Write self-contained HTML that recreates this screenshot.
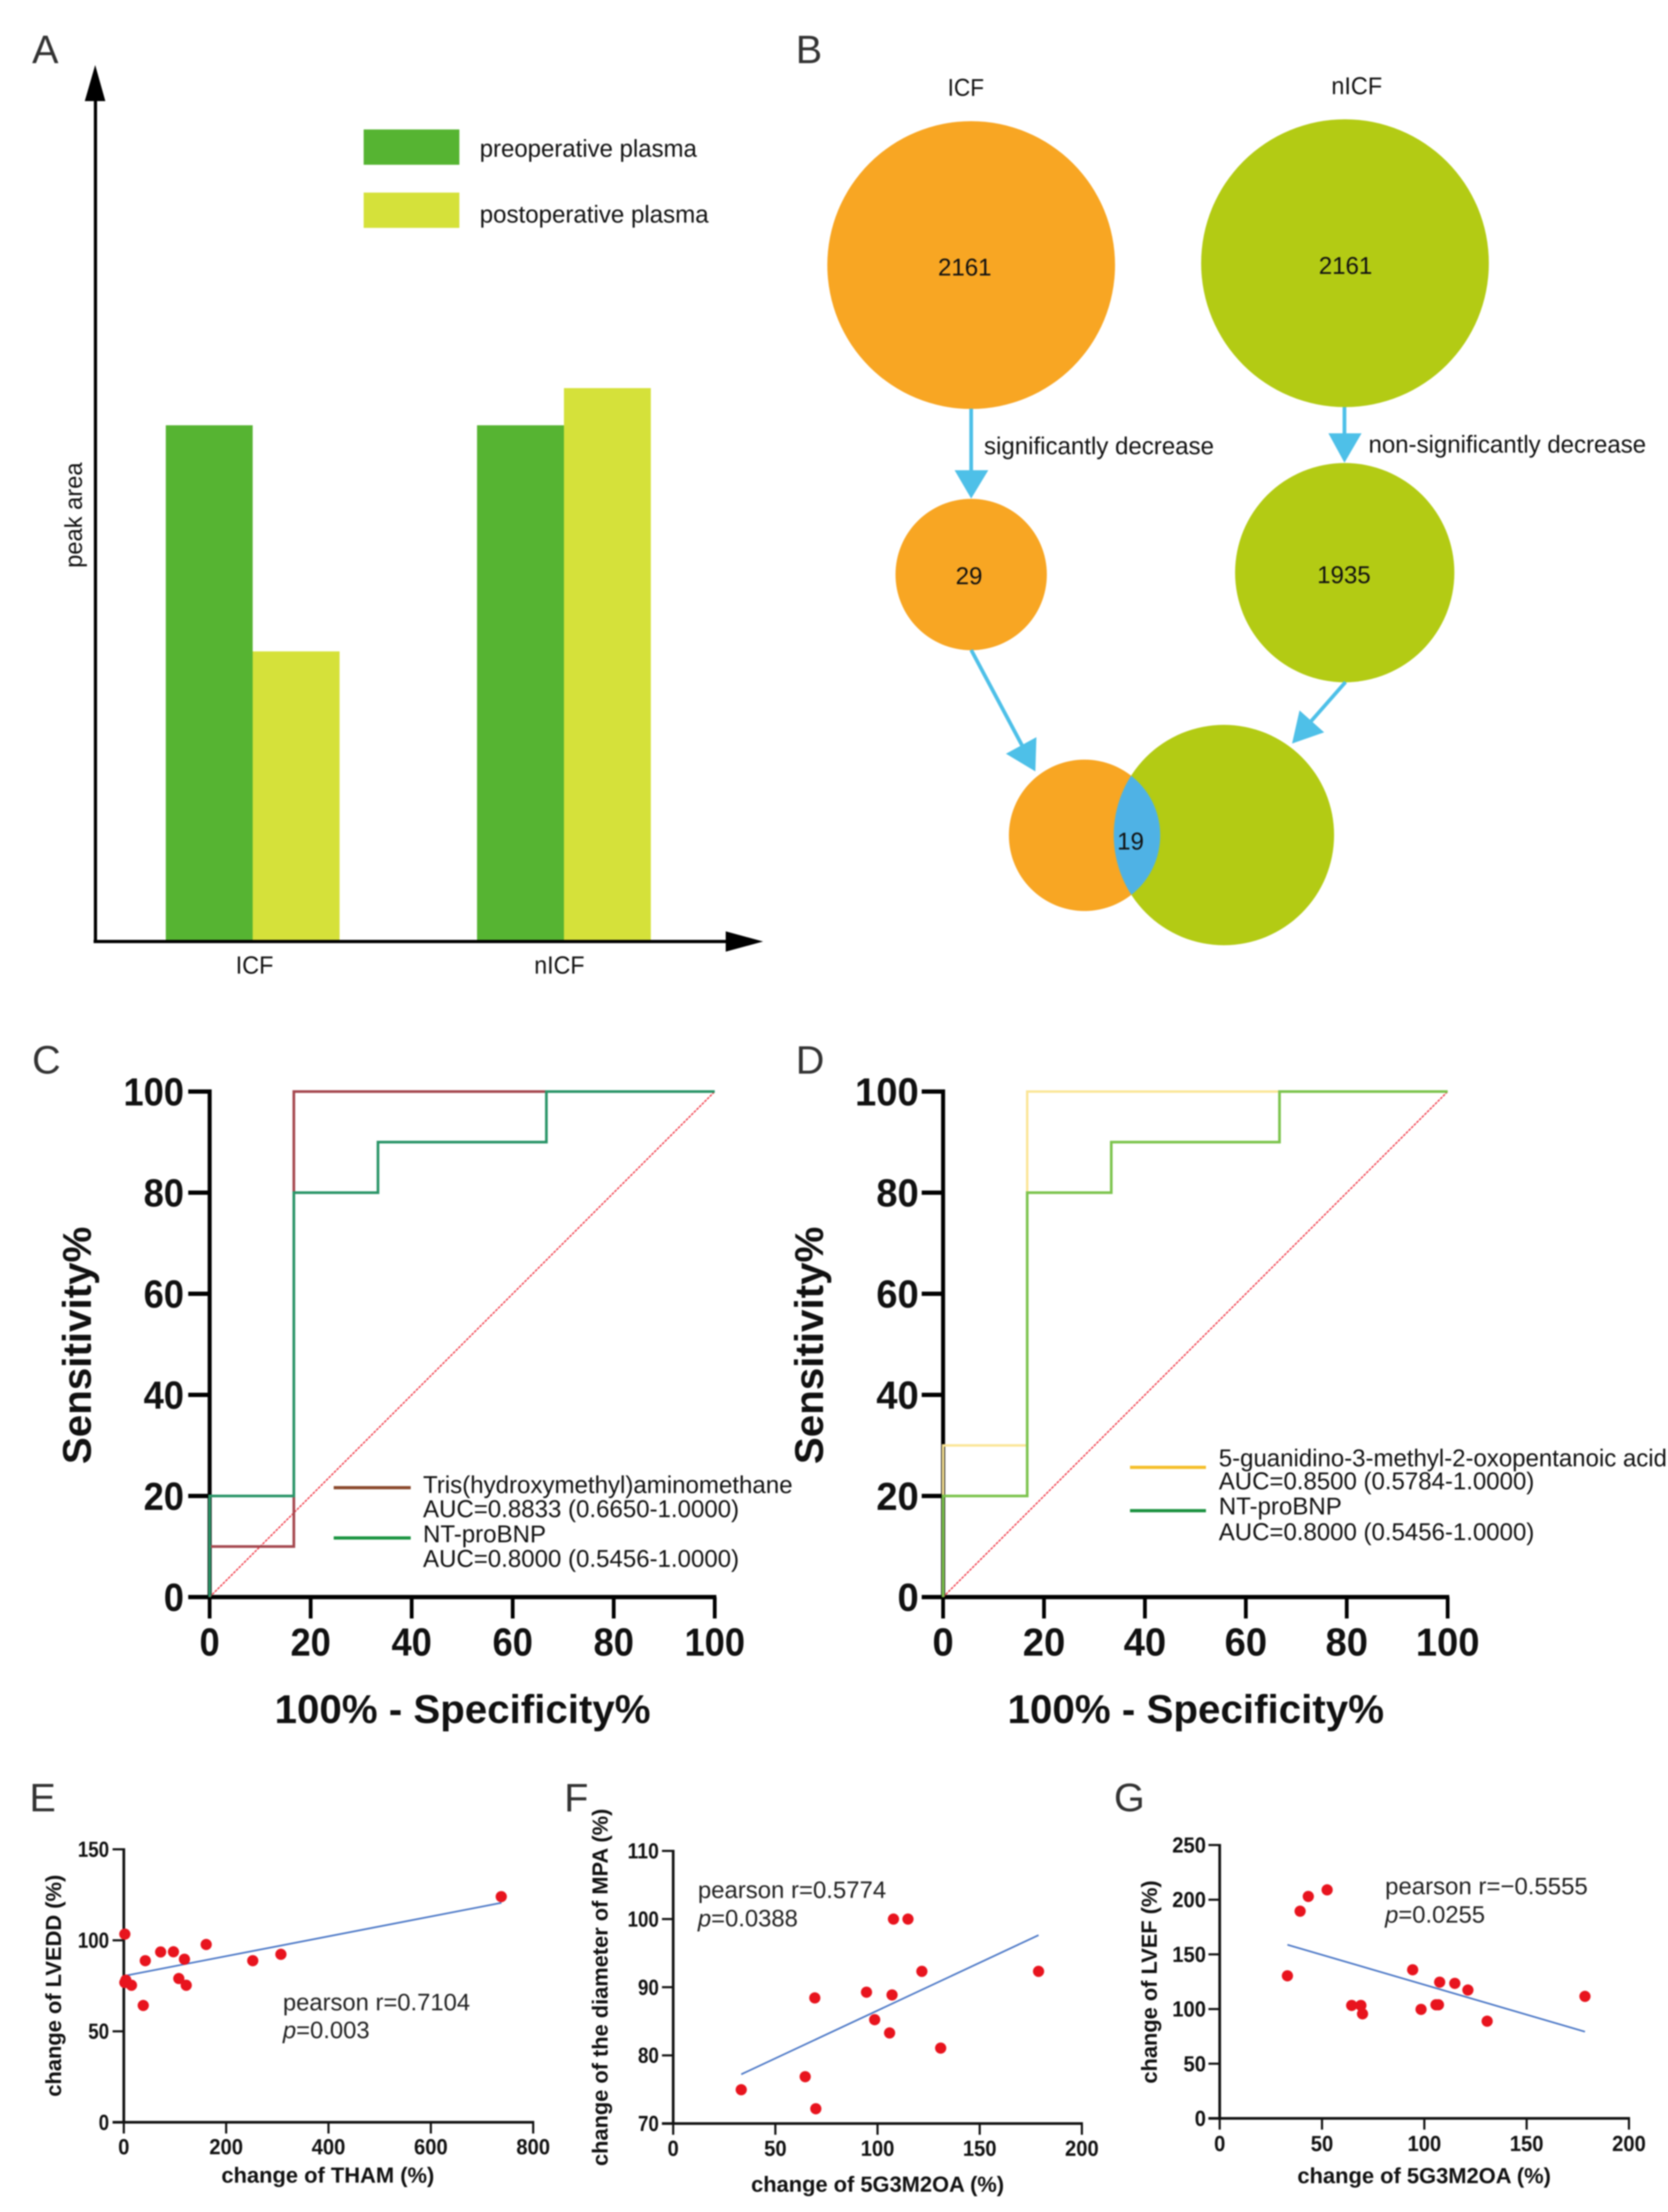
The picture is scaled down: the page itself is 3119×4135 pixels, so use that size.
<!DOCTYPE html>
<html lang="en">
<head>
<meta charset="utf-8">
<title>Metabolite figure panels A-G</title>
<style>
html,body{margin:0;padding:0;background:#fff;}
svg{display:block;font-family:"Liberation Sans",Arial,sans-serif;filter:blur(1.2px);}
text{fill:#111;}
.letter{font-size:74px;fill:#333;}
.t45{font-size:45px;}
.roc-title{font-size:75px;font-weight:bold;}
.sc-title{font-size:41px;font-weight:bold;}
.stat{font-size:44.5px;fill:#222;}
</style>
</head>
<body>
<svg id="fig" xmlns="http://www.w3.org/2000/svg" width="3119" height="4135" viewBox="0 0 3119 4135">
  <rect x="0" y="0" width="3119" height="4135" fill="#ffffff"/>

  <!-- Panel letters -->
  <text class="letter" x="60" y="118">A</text>
  <text class="letter" x="1488" y="118">B</text>
  <text class="letter" x="60" y="2007">C</text>
  <text class="letter" x="1488" y="2007">D</text>
  <text class="letter" x="55" y="3386">E</text>
  <text class="letter" x="1055" y="3386">F</text>
  <text class="letter" x="2083" y="3386">G</text>

  <!-- Panel A static -->
  <g id="panel-a">
    <rect x="680" y="242" width="179" height="66" fill="#56B432"/>
    <rect x="680" y="360" width="179" height="66" fill="#D5E13A"/>
    <text class="t45" x="897" y="293" textLength="406" lengthAdjust="spacingAndGlyphs">preoperative plasma</text>
    <text class="t45" x="897" y="416" textLength="428" lengthAdjust="spacingAndGlyphs">postoperative plasma</text>
    <text class="t45" transform="translate(153,963) rotate(-90)" text-anchor="middle" textLength="197" lengthAdjust="spacingAndGlyphs">peak area</text>
  </g>

  <!-- Panel B -->
  <g id="panel-b">
    <defs>
      <clipPath id="venn-clip"><circle cx="2288.6" cy="1561" r="206"/></clipPath>
    </defs>
    <text class="t45" x="1806" y="179" text-anchor="middle" textLength="68" lengthAdjust="spacingAndGlyphs">ICF</text>
    <text class="t45" x="2537" y="176" text-anchor="middle" textLength="95" lengthAdjust="spacingAndGlyphs">nICF</text>
    <circle cx="1816" cy="495.5" r="269" fill="#F8A623"/>
    <circle cx="2515" cy="492" r="269" fill="#B3CB14"/>
    <text class="t45" x="1804" y="515" text-anchor="middle">2161</text>
    <text class="t45" x="2516" y="512" text-anchor="middle">2161</text>
    <line x1="1816" y1="764" x2="1816" y2="885" stroke="#4EC0E8" stroke-width="7"/>
    <polygon points="1785,879 1848,879 1816,932" fill="#4EC0E8"/>
    <line x1="2514" y1="761" x2="2514" y2="815" stroke="#4EC0E8" stroke-width="7"/>
    <polygon points="2484,810 2546,810 2514,865" fill="#4EC0E8"/>
    <text class="t45" x="1840" y="849" textLength="430" lengthAdjust="spacingAndGlyphs">significantly decrease</text>
    <text class="t45" x="2559" y="846" textLength="519" lengthAdjust="spacingAndGlyphs">non-significantly decrease</text>
    <circle cx="1816" cy="1074" r="141.5" fill="#F8A623"/>
    <circle cx="2514.5" cy="1070.5" r="205" fill="#B3CB14"/>
    <text class="t45" x="1812" y="1092" text-anchor="middle">29</text>
    <text class="t45" x="2513" y="1090" text-anchor="middle">1935</text>
    <line x1="1816" y1="1215" x2="1912" y2="1395" stroke="#4EC0E8" stroke-width="7"/>
    <polygon points="1881,1409 1938,1378 1936,1442" fill="#4EC0E8"/>
    <line x1="2516" y1="1275" x2="2450" y2="1350" stroke="#4EC0E8" stroke-width="7"/>
    <polygon points="2430,1328 2476,1369 2416,1390" fill="#4EC0E8"/>
    <circle cx="2028" cy="1561.5" r="141.5" fill="#F8A623"/>
    <circle cx="2288.6" cy="1561" r="206" fill="#B3CB14"/>
    <circle cx="2028" cy="1561.5" r="141.5" fill="#4FB2E5" clip-path="url(#venn-clip)"/>
    <text class="t45" x="2114" y="1588" text-anchor="middle">19</text>
  </g>

  <!-- Panel C static -->
  <g id="panel-c">
    <text class="roc-title" x="865" y="3221" text-anchor="middle" textLength="703" lengthAdjust="spacingAndGlyphs">100% - Specificity%</text>
    <text class="roc-title" transform="translate(170,2515) rotate(-90)" text-anchor="middle" textLength="444" lengthAdjust="spacingAndGlyphs">Sensitivity%</text>
    <line x1="624" y1="2781" x2="768" y2="2781" stroke="#8B4A2E" stroke-width="6"/>
    <line x1="624" y1="2875" x2="768" y2="2875" stroke="#1A9440" stroke-width="6"/>
    <text class="t45" x="791" y="2791" textLength="691" lengthAdjust="spacingAndGlyphs">Tris(hydroxymethyl)aminomethane</text>
    <text class="t45" x="791" y="2836" textLength="591" lengthAdjust="spacingAndGlyphs">AUC=0.8833 (0.6650-1.0000)</text>
    <text class="t45" x="791" y="2883">NT-proBNP</text>
    <text class="t45" x="791" y="2929" textLength="591" lengthAdjust="spacingAndGlyphs">AUC=0.8000 (0.5456-1.0000)</text>
  </g>

  <!-- Panel D static -->
  <g id="panel-d">
    <text class="roc-title" x="2236" y="3221" text-anchor="middle" textLength="704" lengthAdjust="spacingAndGlyphs">100% - Specificity%</text>
    <text class="roc-title" transform="translate(1539,2515) rotate(-90)" text-anchor="middle" textLength="444" lengthAdjust="spacingAndGlyphs">Sensitivity%</text>
    <line x1="2113" y1="2743" x2="2255" y2="2743" stroke="#F5BE2A" stroke-width="6"/>
    <line x1="2113" y1="2824" x2="2255" y2="2824" stroke="#1B9240" stroke-width="6"/>
    <text class="t45" x="2279" y="2741" textLength="838" lengthAdjust="spacingAndGlyphs">5-guanidino-3-methyl-2-oxopentanoic acid</text>
    <text class="t45" x="2279" y="2784" textLength="590" lengthAdjust="spacingAndGlyphs">AUC=0.8500 (0.5784-1.0000)</text>
    <text class="t45" x="2279" y="2831">NT-proBNP</text>
    <text class="t45" x="2279" y="2879" textLength="590" lengthAdjust="spacingAndGlyphs">AUC=0.8000 (0.5456-1.0000)</text>
  </g>

  <!-- Panel E static -->
  <g id="panel-e">
    <text class="sc-title" x="613" y="4080" text-anchor="middle" textLength="398" lengthAdjust="spacingAndGlyphs">change of THAM (%)</text>
    <text class="sc-title" transform="translate(114,3712) rotate(-90)" text-anchor="middle" textLength="415" lengthAdjust="spacingAndGlyphs">change of LVEDD (%)</text>
    <text class="stat" x="529" y="3758" textLength="350" lengthAdjust="spacingAndGlyphs">pearson r=0.7104</text>
    <text class="stat" x="529" y="3810"><tspan font-style="italic">p</tspan>=0.003</text>
  </g>

  <!-- Panel F static -->
  <g id="panel-f">
    <text class="sc-title" x="1641" y="4097" text-anchor="middle" textLength="473" lengthAdjust="spacingAndGlyphs">change of 5G3M2OA (%)</text>
    <text class="sc-title" transform="translate(1136,3715) rotate(-90)" text-anchor="middle" textLength="668" lengthAdjust="spacingAndGlyphs">change of the diameter of MPA (%)</text>
    <text class="stat" x="1305" y="3548" textLength="352" lengthAdjust="spacingAndGlyphs">pearson r=0.5774</text>
    <text class="stat" x="1305" y="3601"><tspan font-style="italic">p</tspan>=0.0388</text>
  </g>

  <!-- Panel G static -->
  <g id="panel-g">
    <text class="sc-title" x="2663" y="4081" text-anchor="middle" textLength="474" lengthAdjust="spacingAndGlyphs">change of 5G3M2OA (%)</text>
    <text class="sc-title" transform="translate(2163,3705) rotate(-90)" text-anchor="middle" textLength="380" lengthAdjust="spacingAndGlyphs">change of LVEF (%)</text>
    <text class="stat" x="2590" y="3541" textLength="379" lengthAdjust="spacingAndGlyphs">pearson r=−0.5555</text>
    <text class="stat" x="2590" y="3594"><tspan font-style="italic">p</tspan>=0.0255</text>
  </g>
</svg>

<script>
// ---------- Panel A data ----------
const barCategories = ['ICF', 'nICF'];
const preoperativeValues = [1.0, 1.0];
const postoperativeValues = [0.562, 1.072];

// ---------- Panels C and D data ----------
const rocTicks = [0, 20, 40, 60, 80, 100];
const diagonalX = [0, 100];
const diagonalY = [0, 100];
const thamRocX = [0, 0, 16.67, 16.67, 100];
const thamRocY = [0, 10, 10, 100, 100];
const ntProBnpRocX = [0, 0, 16.67, 16.67, 33.33, 33.33, 66.67, 66.67, 100];
const ntProBnpRocY = [0, 20, 20, 80, 80, 90, 90, 100, 100];
const guanidinoRocX = [0, 0, 16.67, 16.67, 100];
const guanidinoRocY = [0, 30, 30, 100, 100];

// ---------- Panel E data ----------
const eXTicks = [0, 200, 400, 600, 800];
const eYTicks = [0, 50, 100, 150];
const eX = [2, 4, 2, 15, 42, 38, 72, 97, 118.5, 107.5, 122, 161, 252, 307, 737.6];
const eY = [103.4, 78.1, 76.8, 75.3, 88.8, 64.2, 93.6, 93.7, 89.6, 79, 75.3, 97.7, 88.8, 92.3, 124];
const eFitX = [4, 738];
const eFitY = [80.6, 120.6];

// ---------- Panel F data ----------
const fXTicks = [0, 50, 100, 150, 200];
const fYTicks = [70, 80, 90, 100, 110];
const fX = [33.3, 64.6, 69.8, 69.3, 94.6, 98.6, 105.9, 107.1, 107.8, 114.9, 121.7, 130.9, 178.8];
const fY = [74.96, 76.87, 72.17, 88.43, 89.27, 85.24, 83.29, 88.87, 100, 100, 92.33, 81.07, 92.33];
const fFitX = [33.3, 178.8];
const fFitY = [77.22, 97.64];

// ---------- Panel G data ----------
const gXTicks = [0, 50, 100, 150, 200];
const gYTicks = [0, 50, 100, 150, 200, 250];
const gX = [33.1, 39.3, 43.3, 52.5, 64.5, 69, 69.8, 94.3, 98.4, 105.7, 106.9, 107.5, 114.9, 121.3, 130.7, 178.5];
const gY = [130.4, 189.5, 203, 209, 103.3, 103.3, 95.6, 135.9, 99.7, 103.9, 103.9, 124.6, 123.5, 117.4, 88.9, 111.6];
const gFitX = [33.1, 178.5];
const gFitY = [158.8, 79.3];

// ---------- Helpers ----------
const NS = 'http://www.w3.org/2000/svg';
function mk(parent, tag, attrs, txt) {
  const el = document.createElementNS(NS, tag);
  for (const k in attrs) el.setAttribute(k, attrs[k]);
  if (txt !== undefined) el.textContent = txt;
  parent.appendChild(el);
  return el;
}
function linearScale(d0, d1, r0, r1) {
  return function (v) { return r0 + (v - d0) * (r1 - r0) / (d1 - d0); };
}
function pathFrom(xs, ys, sx, sy) {
  return xs.map(function (x, i) {
    return (i ? 'L' : 'M') + sx(x).toFixed(2) + ' ' + sy(ys[i]).toFixed(2);
  }).join(' ');
}

// ---------- Panel A ----------
function drawBars() {
  const g = document.getElementById('panel-a');
  const baseY = 1760;
  const sy = linearScale(0, 1, baseY, 795);
  const barW = 162.5;
  const groupX = function (i) { return 472.5 + i * 582; };
  const labelX = function (i) { return 476 + i * 570; };

  barCategories.forEach(function (cat, i) {
    const pre = mk(g, 'rect', { x: groupX(i) - barW, y: sy(preoperativeValues[i]), width: barW, height: baseY - sy(preoperativeValues[i]), fill: '#56B432' });
    
    
    const post = mk(g, 'rect', { x: groupX(i), y: sy(postoperativeValues[i]), width: barW, height: baseY - sy(postoperativeValues[i]), fill: '#D5E13A' });
    
    
    const lab = mk(g, 'text', { x: labelX(i), y: 1820, 'text-anchor': 'middle', 'font-size': 46, textLength: cat.length * 23.5, lengthAdjust: 'spacingAndGlyphs' }, cat);
    
    
  });

  const yAxis = mk(g, 'line', { x1: 178.5, y1: 185, x2: 178.5, y2: 1763, stroke: '#000', 'stroke-width': 6 });
  
  
  const yHead = mk(g, 'polygon', { points: '158.5,189 197,189 178,121.5', fill: '#000' });
  
  
  const xAxis = mk(g, 'line', { x1: 175, y1: 1760, x2: 1360, y2: 1760, stroke: '#000', 'stroke-width': 6 });
  
  
  const xHead = mk(g, 'polygon', { points: '1357,1741 1357,1779 1427,1760', fill: '#000' });
  
  
}

// ---------- Panels C and D ----------
function drawRocAxes(g, sx, sy, charW, yLabelRight, suffix) {
  const xAxis = mk(g, 'line', { x1: sx(0) - 40, y1: sy(0), x2: sx(100) + 3, y2: sy(0), stroke: '#000', 'stroke-width': 8 });
  
  
  const yAxis = mk(g, 'line', { x1: sx(0), y1: sy(100) - 4, x2: sx(0), y2: sy(0) + 3, stroke: '#000', 'stroke-width': 7.5 });
  
  
  rocTicks.forEach(function (t) {
    const yt = mk(g, 'line', { x1: sx(0) - 40, y1: sy(t), x2: sx(0), y2: sy(t), stroke: '#000', 'stroke-width': 8 });
    
    
    const xt = mk(g, 'line', { x1: sx(t), y1: sy(0), x2: sx(t), y2: sy(0) + 40, stroke: '#000', 'stroke-width': 7 });
    
    
    const len = String(t).length * charW;
    const yl = mk(g, 'text', { x: yLabelRight, y: sy(t) + 26, 'text-anchor': 'end', 'font-size': 73, 'font-weight': 'bold', textLength: len, lengthAdjust: 'spacingAndGlyphs' }, String(t));
    
    
    const xl = mk(g, 'text', { x: sx(t), y: 3095, 'text-anchor': 'middle', 'font-size': 73, 'font-weight': 'bold', textLength: len, lengthAdjust: 'spacingAndGlyphs' }, String(t));
    
    
  });
}
function drawRocC() {
  const g = document.getElementById('panel-c');
  const sx = linearScale(0, 100, 392, 1336.5);
  const sy = linearScale(0, 100, 2985.5, 2040.5);
  drawRocAxes(g, sx, sy, 37.7, 344, 'c');
  const diag = mk(g, 'path', { d: pathFrom(diagonalX, diagonalY, sx, sy), fill: 'none', stroke: '#F0303F', 'stroke-width': 2.4, 'stroke-dasharray': '5 2' });
  
  
  const tham = mk(g, 'path', { d: pathFrom(thamRocX, thamRocY, sx, sy), fill: 'none', stroke: '#A5484F', 'stroke-width': 5 });
  
  
  const nt = mk(g, 'path', { d: pathFrom(ntProBnpRocX, ntProBnpRocY, sx, sy), fill: 'none', stroke: '#2A9568', 'stroke-width': 5 });
  
  
}
function drawRocD() {
  const g = document.getElementById('panel-d');
  const sx = linearScale(0, 100, 1763.5, 2707);
  const sy = linearScale(0, 100, 2985.5, 2040.5);
  drawRocAxes(g, sx, sy, 39.7, 1718, 'd');
  const diag = mk(g, 'path', { d: pathFrom(diagonalX, diagonalY, sx, sy), fill: 'none', stroke: '#F0303F', 'stroke-width': 2.4, 'stroke-dasharray': '5 2' });
  
  
  const gu = mk(g, 'path', { d: pathFrom(guanidinoRocX, guanidinoRocY, sx, sy), fill: 'none', stroke: '#FBE596', 'stroke-width': 4.5 });
  
  
  const nt = mk(g, 'path', { d: pathFrom(ntProBnpRocX, ntProBnpRocY, sx, sy), fill: 'none', stroke: '#7DC44E', 'stroke-width': 5 });
  
  
}

// ---------- Panels E, F, G ----------
function drawScatter(id, frame, xTicks, yTicks, xs, ys, fitX, fitY) {
  const g = document.getElementById(id);
  const sx = linearScale(xTicks[0], xTicks[xTicks.length - 1], frame.left, frame.right);
  const sy = linearScale(yTicks[0], yTicks[yTicks.length - 1], frame.bottom, frame.top);
  const xAxis = mk(g, 'line', { x1: frame.left - 21, y1: frame.bottom, x2: frame.right + 2, y2: frame.bottom, stroke: '#111', 'stroke-width': 5 });
  
  
  const yAxis = mk(g, 'line', { x1: frame.left, y1: frame.top - 2, x2: frame.left, y2: frame.bottom + 2, stroke: '#111', 'stroke-width': 5 });
  
  
  yTicks.forEach(function (t) {
    const tk = mk(g, 'line', { x1: frame.left - 21, y1: sy(t), x2: frame.left, y2: sy(t), stroke: '#111', 'stroke-width': 4 });
    
    
    const lb = mk(g, 'text', { x: frame.yLabelRight, y: sy(t) + 14, 'text-anchor': 'end', 'font-size': 41, 'font-weight': 'bold', textLength: String(t).length * frame.yCharW, lengthAdjust: 'spacingAndGlyphs' }, String(t));
    
    
  });
  xTicks.forEach(function (t) {
    const tk = mk(g, 'line', { x1: sx(t), y1: frame.bottom, x2: sx(t), y2: frame.bottom + 21, stroke: '#111', 'stroke-width': 4 });
    
    
    const lb = mk(g, 'text', { x: sx(t), y: frame.xLabelY, 'text-anchor': 'middle', 'font-size': 41, 'font-weight': 'bold', textLength: String(t).length * 21, lengthAdjust: 'spacingAndGlyphs' }, String(t));
    
    
  });
  const fit = mk(g, 'path', { d: pathFrom(fitX, fitY, sx, sy), fill: 'none', stroke: '#4472C4', 'stroke-width': 3 });
  
  
  xs.forEach(function (x, i) {
    const p = mk(g, 'circle', { cx: sx(x), cy: sy(ys[i]), r: 10.5, fill: '#E8141E' });
    
    
  });
}

drawBars();
drawRocC();
drawRocD();
drawScatter('panel-e', { left: 231.5, right: 997, top: 3457, bottom: 3967.3, yLabelRight: 204, xLabelY: 4027, yCharW: 19.5 }, eXTicks, eYTicks, eX, eY, eFitX, eFitY);
drawScatter('panel-f', { left: 1258.8, right: 2023, top: 3460, bottom: 3969.6, yLabelRight: 1232, xLabelY: 4030, yCharW: 19.5 }, fXTicks, fYTicks, fX, fY, fFitX, fFitY);
drawScatter('panel-g', { left: 2280.7, right: 3046, top: 3449, bottom: 3960, yLabelRight: 2255, xLabelY: 4021, yCharW: 21 }, gXTicks, gYTicks, gX, gY, gFitX, gFitY);
</script>
</body>
</html>
